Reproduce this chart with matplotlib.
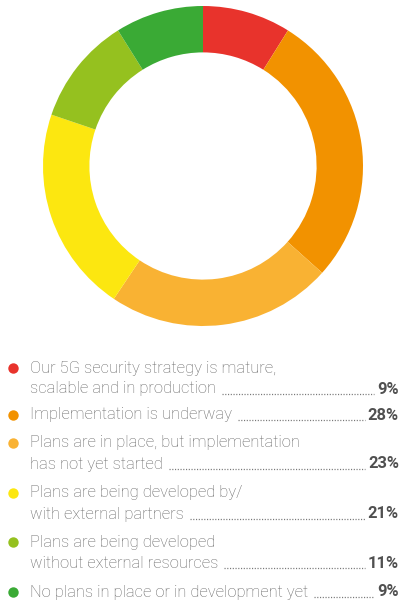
import matplotlib
matplotlib.use("Agg")
import matplotlib.pyplot as plt

labels = [
    "Our 5G security strategy is mature,\nscalable and in production",
    "Implementation is underway",
    "Plans are in place, but implementation\nhas not yet started",
    "Plans are being developed by/\nwith external partners",
    "Plans are being developed\nwithout external resources",
    "No plans in place or in development yet",
]
shares = [9, 28, 23, 21, 11, 9]
colors = ["#E8332C", "#F29200", "#F9B233", "#FCE710", "#95C11F", "#3AAA35"]

W, H = 401, 602
fig = plt.figure(figsize=(W / 100, H / 100), dpi=100)

# donut
cx, cy, r = 203, 166, 160
pax = fig.add_axes([(cx - r) / W, 1 - (cy + r) / H, 2 * r / W, 2 * r / H])
pax.pie(shares, colors=colors, startangle=90, counterclock=False,
        wedgeprops=dict(width=0.29, linewidth=0))
pax.set_xlim(-1, 1)
pax.set_ylim(-1, 1)
pax.set_aspect("equal")
pax.axis("off")

# legend drawn in pixel coordinates
ax = fig.add_axes([0, 0, 1, 1])
ax.set_xlim(0, W)
ax.set_ylim(H, 0)
ax.axis("off")

fam = ["Roboto", "DejaVu Sans"]
line_gap = 21
item_tops = [368, 415, 443, 493, 542, 592]

fig.canvas.draw()
renderer = fig.canvas.get_renderer()
inv = ax.transData.inverted()

for lab, val, col, y0 in zip(labels, shares, colors, item_tops):
    lines = lab.split("\n")
    ax.plot(13, y0, "o", ms=7.5, color=col, mec="none")
    last = None
    for i, ln in enumerate(lines):
        last = ax.text(30, y0 + i * line_gap, ln, va="center", ha="left",
                       family=fam, fontsize=11.9, weight="light",
                       color="#666666")
    y_last = y0 + (len(lines) - 1) * line_gap
    pct = ax.text(399, y_last, f"{val}%", va="center", ha="right",
                  family=fam, fontsize=11.9, weight="bold", color="#505050")
    bb1 = last.get_window_extent(renderer)
    bb2 = pct.get_window_extent(renderer)
    x_start = inv.transform((bb1.x1, 0))[0] + 6
    x_end = inv.transform((bb2.x0, 0))[0] - 3
    # dotted leader to the percentage
    ax.plot([x_start, x_end], [y_last + 5, y_last + 5], color="#777777",
            lw=0.9, ls=(0, (0.9, 1.3)))

fig.savefig("out.png", dpi=100)
